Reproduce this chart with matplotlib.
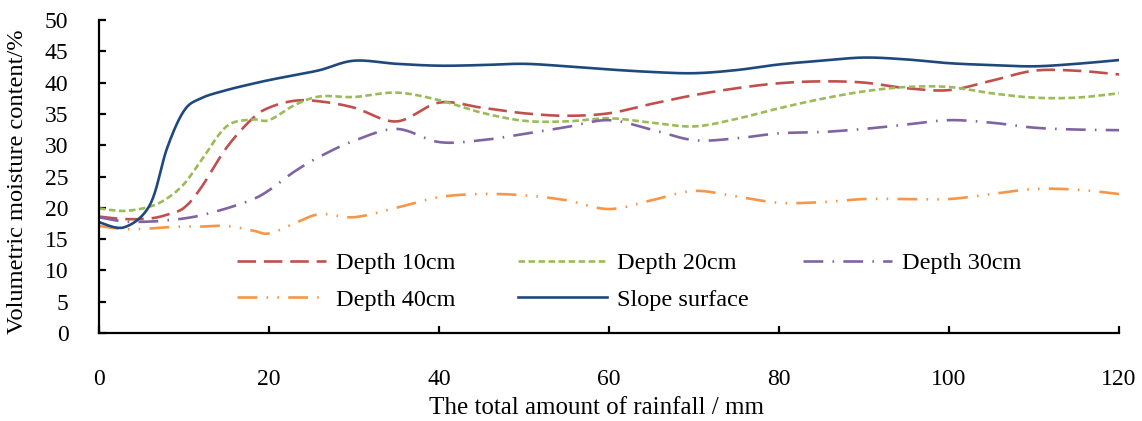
import numpy as np
import matplotlib
matplotlib.use("Agg")
import matplotlib.pyplot as plt
from matplotlib.legend import Legend

plt.rcParams["font.family"] = ["Liberation Serif", "DejaVu Serif"]
plt.rcParams["font.size"] = 17

# rainfall (mm) at the read-off points
rain = [0, 3, 6, 8, 10, 12, 15, 18, 20, 23, 26, 30, 35, 40, 45, 50, 55,
        60, 65, 70, 75, 80, 85, 90, 95, 100, 105, 110, 115, 120]

depth10 = [18.6, 18.2, 18.3, 18.9, 20.0, 23.2, 29.6, 34.2, 36.0, 37.1, 37.0, 36.0,
           33.8, 36.8, 36.0, 35.1, 34.7, 35.1, 36.6, 38.0, 39.1, 39.9, 40.2, 40.0,
           39.1, 38.8, 40.3, 41.9, 41.9, 41.3]
depth20 = [19.9, 19.5, 20.2, 21.5, 23.8, 27.5, 33.0, 34.1, 34.0, 36.4, 37.8, 37.7,
           38.4, 37.2, 35.2, 33.9, 33.8, 34.3, 33.6, 33.0, 34.2, 35.9, 37.4, 38.6,
           39.3, 39.3, 38.3, 37.6, 37.6, 38.3]
depth30 = [18.5, 17.8, 17.8, 18.0, 18.3, 18.8, 19.9, 21.3, 22.8, 25.8, 28.2, 30.7,
           32.6, 30.5, 30.8, 31.8, 32.9, 34.0, 32.5, 30.8, 31.1, 31.9, 32.1, 32.6,
           33.3, 34.0, 33.6, 32.8, 32.5, 32.4]
depth40 = [17.1, 16.6, 16.7, 16.9, 17.0, 17.0, 17.1, 16.4, 15.9, 17.5, 19.0, 18.5,
           20.0, 21.7, 22.2, 22.0, 21.2, 19.8, 21.2, 22.7, 21.8, 20.8, 20.9, 21.4,
           21.4, 21.4, 22.2, 23.0, 22.9, 22.2]
surface = [17.7, 16.9, 20.5, 29.5, 35.5, 37.5, 38.8, 39.8, 40.4, 41.2, 42.0, 43.5,
           43.0, 42.7, 42.8, 43.0, 42.6, 42.1, 41.7, 41.5, 42.0, 42.9, 43.5, 44.0,
           43.7, 43.1, 42.8, 42.6, 43.0, 43.6]

labels = ["Depth 10cm", "Depth 20cm", "Depth 30cm", "Depth 40cm", "Slope surface"]


def smooth(x, y, n=20):
    # Catmull-Rom curve through the points, like Excel's smoothed line
    p = np.column_stack([x, y]).astype(float)
    p = np.vstack([p[0], p, p[-1]])
    t = np.linspace(0, 1, n, endpoint=False)[:, None]
    out = []
    for i in range(1, len(p) - 2):
        p0, p1, p2, p3 = p[i - 1], p[i], p[i + 1], p[i + 2]
        out.append(0.5 * (2 * p1 + (-p0 + p2) * t + (2 * p0 - 5 * p1 + 4 * p2 - p3) * t ** 2
                          + (-p0 + 3 * p1 - 3 * p2 + p3) * t ** 3))
    out.append(p[-2][None, :])
    out = np.vstack(out)
    return out[:, 0], out[:, 1]


fig = plt.figure(figsize=(11.42, 4.21), dpi=100)
ax = fig.add_axes([0.0867, 0.209, 0.8932, 0.7435])

styles = [
    ("#C0504D", (0, (7, 3))),
    ("#9BBB59", (0, (2.5, 1.3))),
    ("#8064A2", (0, (7.5, 3.5, 0.6, 3.5))),
    ("#F79646", (0, (7.5, 3.5, 0.6, 3.5, 0.6, 3.5))),
    ("#1F497D", "-"),
]
lines = []
for vals, (c, ls), lab in zip([depth10, depth20, depth30, depth40, surface], styles, labels):
    sx, sy = smooth(rain, vals)
    ln, = ax.plot(sx, sy, color=c, linestyle=ls, lw=1.9, label=lab)
    lines.append(ln)

ax.set_xlim(0, 120)
ax.set_ylim(0, 50)
ax.set_xticks(range(0, 121, 20))
ax.set_yticks(range(0, 51, 5))
for s in ["top", "right"]:
    ax.spines[s].set_visible(False)
for s in ["left", "bottom"]:
    ax.spines[s].set_linewidth(1.6)
ax.tick_params(axis="both", direction="in", length=5, width=1.6, labelsize=17)
ax.tick_params(axis="x", pad=26)
ax.tick_params(axis="y", pad=22)

ax.set_xlabel("The total amount of rainfall / mm", fontsize=18)
ax.set_ylabel("Volumetric moisture content/%", fontsize=17.6)
ax.xaxis.set_label_coords(0.488, -0.204)
ax.yaxis.set_label_coords(-0.0696, 0.482)


# legend: three columns placed like the original
def px(x, y):
    return ((x - 99) / 1020, (333 - y) / 313)


leg_kw = dict(loc="upper left", frameon=False, borderpad=0, borderaxespad=0,
              handlelength=3.65, handletextpad=0.42, labelspacing=0.6, fontsize=17.5)
cols = [([lines[0], lines[3]], 237), ([lines[1], lines[4]], 518), ([lines[2]], 803)]
for hs, x0 in cols:
    leg = Legend(ax, hs, [h.get_label() for h in hs],
                 bbox_to_anchor=px(x0, 252), bbox_transform=ax.transAxes, **leg_kw)
    ax.add_artist(leg)

fig.savefig("out.png", dpi=100)
